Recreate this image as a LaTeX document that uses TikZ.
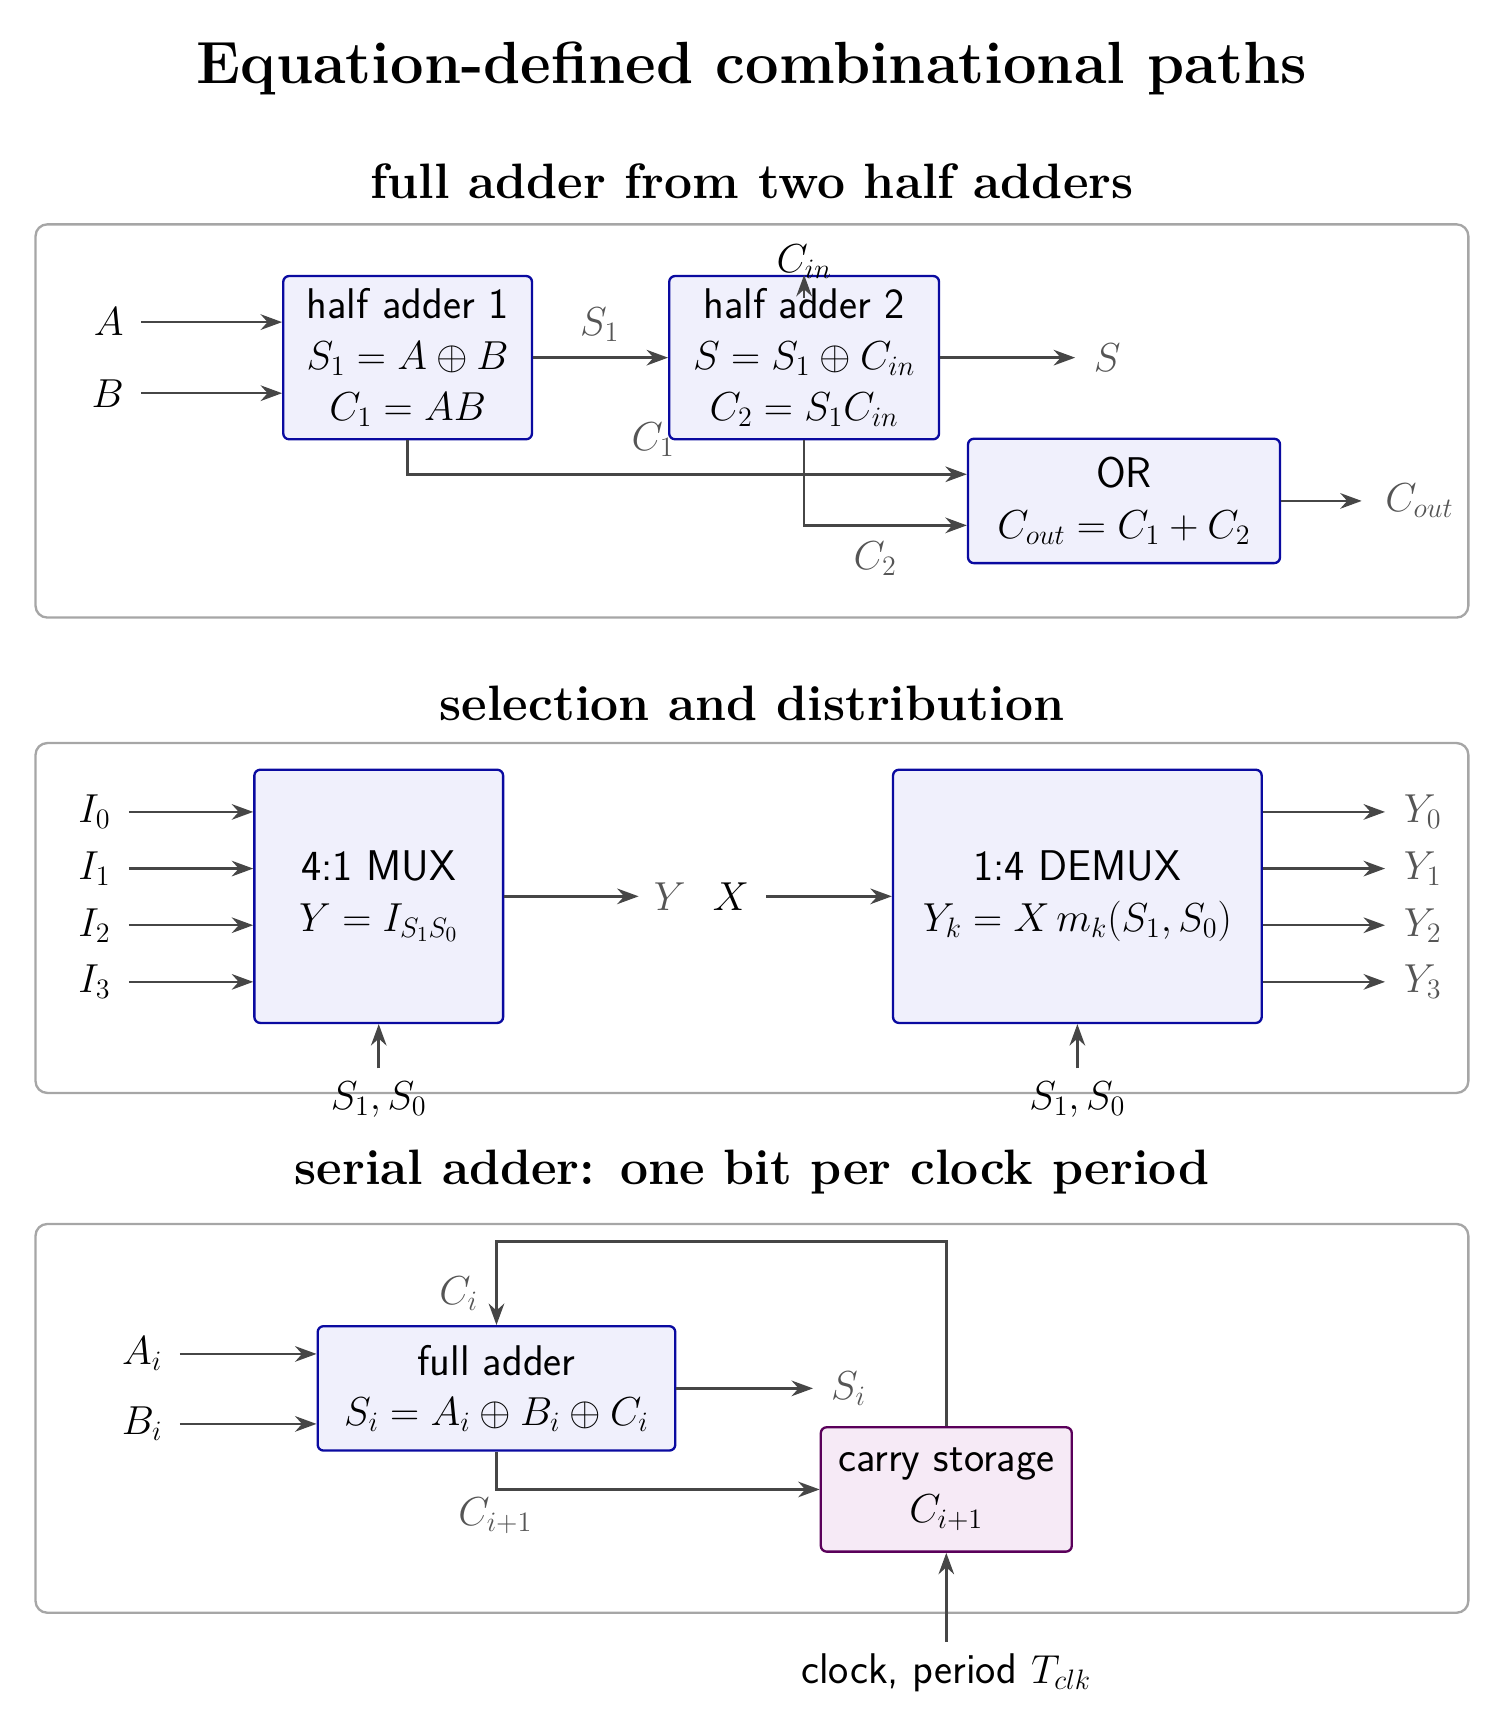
\documentclass[tikz,border=0pt]{standalone}
\usetikzlibrary{arrows.meta}
\definecolor{bx}{RGB}{10,10,160}
\definecolor{bxf}{RGB}{240,240,252}
\definecolor{px}{RGB}{90,0,90}
\definecolor{pxf}{RGB}{246,234,246}
\definecolor{ar}{RGB}{70,70,70}
\definecolor{lb}{RGB}{85,85,85}
\begin{document}
\begin{tikzpicture}[x=0.02cm,y=-0.02cm,
  panel/.style={draw=black!35,line width=1.2pt,rounded corners=6pt},
  box/.style={draw=bx,fill=bxf,line width=1.2pt,rounded corners=3pt,align=center,inner sep=0pt,font=\fontsize{22}{26}\selectfont\sffamily},
  pbox/.style={box,draw=px,fill=pxf},
  ttl/.style={font=\fontsize{30.5}{34}\selectfont\bfseries},
  sub/.style={font=\fontsize{25.5}{28}\selectfont\bfseries},
  lab/.style={font=\fontsize{22}{26}\selectfont,inner sep=0pt},
  olab/.style={lab,text=lb},
  arr/.style={draw=ar,line width=1.3pt,-{Stealth[length=11pt,width=8pt]}}]
\useasboundingbox (0,0) rectangle (1354,1563);
\node[ttl] (t) at (677,62) {Equation-defined combinational paths};
% panel 1
\node[sub] (t1) at (677,163) {full adder from two half adders};
\draw[panel] (32,202) rectangle (1322,556);
\node[box,minimum width=4.48cm,minimum height=2.94cm] (ha1) at (367,322) {half adder 1\\$S_1=A\oplus B$\\$C_1=AB$};
\node[box,minimum width=4.86cm,minimum height=2.94cm] (ha2) at (724,322) {half adder 2\\$S=S_1\oplus C_{in}$\\$C_2=S_1C_{in}$};
\node[box,minimum width=5.62cm,minimum height=2.24cm] (or) at (1012,451) {OR\\$C_{out}=C_1+C_2$};
\node[lab] (a) at (98,290) {$A$};
\node[lab] (b) at (97,354) {$B$};
\coordinate (a1) at (127,290); \coordinate (b1) at (127,354);
\draw[arr] (a1) -- (a1 -| ha1.west);
\draw[arr] (b1) -- (b1 -| ha1.west);
\draw[arr] (ha1.east |- 0,322) -- (ha2.west |- 0,322);
\node[olab] (s1) at (540,292) {$S_1$};
\node[lab] (cin) at (724,236) {$C_{in}$};
\coordinate (cinb) at (724,268);
\draw[arr] (cinb) -- (ha2.north);
\node[olab] (s) at (997,322) {$S$};
\coordinate (so) at (968,322);
\draw[arr] (ha2.east |- 0,322) -- (so);
\coordinate (c1a) at (367,427); \coordinate (c2a) at (724,473);
\draw[arr] (ha1.south) -- (c1a) -- (c1a -| or.west);
\draw[arr] (ha2.south) -- (c2a) -- (c2a -| or.west);
\node[olab] (c1) at (588,396) {$C_1$};
\node[olab] (c2) at (788,503) {$C_2$};
\node[olab] (cout) at (1278,451) {$C_{out}$};
\coordinate (coute) at (1226,451);
\draw[arr] (or.east) -- (coute);
% panel 2
\node[sub] (t2) at (677,633) {selection and distribution};
\draw[panel] (32,669) rectangle (1322,984);
\node[box,minimum width=4.48cm,minimum height=4.56cm] (mux) at (341,807) {4:1 MUX\\$Y=I_{S_1S_0}$};
\node[box,minimum width=6.64cm,minimum height=4.56cm] (dmx) at (970,807) {1:4 DEMUX\\$Y_k=X\,m_k(S_1,S_0)$};
\foreach \i/\y in {0/731,1/782,2/833,3/884}{
  \node[lab] (i\i) at (85,\y) {$I_\i$};
  \coordinate (ii\i) at (116,\y);
  \draw[arr] (ii\i) -- (ii\i -| mux.west);
  \node[olab] (y\i) at (1281,\y) {$Y_\i$};
  \coordinate (yy\i) at (1247,\y);
  \draw[arr] (yy\i -| dmx.east) -- (yy\i);
}
\node[olab] (y) at (603,807) {$Y$};
\coordinate (ye) at (575,807);
\draw[arr] (mux.east) -- (ye);
\node[lab] (x) at (658,807) {$X$};
\coordinate (xe) at (690,807);
\draw[arr] (xe) -- (dmx.west);
\node[lab] (sm) at (341,990) {$S_1,S_0$};
\node[lab] (sd) at (970,990) {$S_1,S_0$};
\coordinate (smb) at (341,962); \coordinate (sdb) at (970,962);
\draw[arr] (smb) -- (mux.south);
\draw[arr] (sdb) -- (dmx.south);
% panel 3
\node[sub] (t3) at (677,1055) {serial adder: one bit per clock period};
\draw[panel] (32,1102) rectangle (1322,1452);
\node[box,minimum width=6.44cm,minimum height=2.24cm] (fa) at (447,1250) {full adder\\$S_i=A_i\oplus B_i\oplus C_i$};
\node[pbox,minimum width=4.52cm,minimum height=2.24cm] (cs) at (852,1341) {carry storage\\$C_{i+1}$};
\node[lab] (ai) at (128,1219) {$A_i$};
\node[lab] (bi) at (128,1282) {$B_i$};
\coordinate (aa) at (162,1219); \coordinate (bb) at (162,1282);
\draw[arr] (aa) -- (aa -| fa.west);
\draw[arr] (bb) -- (bb -| fa.west);
\node[olab] (si) at (764,1250) {$S_i$};
\coordinate (sie) at (732,1250);
\draw[arr] (fa.east |- sie) -- (sie);
\coordinate (cc) at (447,1341);
\draw[arr] (fa.south) -- (cc) -- (cs.west);
\node[olab] (ci1) at (446,1365) {$C_{i+1}$};
\coordinate (fb1) at (852,1118); \coordinate (fb2) at (447,1118);
\draw[arr] (cs.north) -- (fb1) -- (fb2) -- (fa.north);
\node[olab] (ci) at (413,1165) {$C_i$};
\node[lab,font=\fontsize{22}{26}\selectfont\sffamily] (clk) at (852,1506) {clock, period $T_{clk}$};
\coordinate (clkt) at (852,1478);
\draw[arr] (clkt) -- (cs.south);
\end{tikzpicture}
\end{document}
